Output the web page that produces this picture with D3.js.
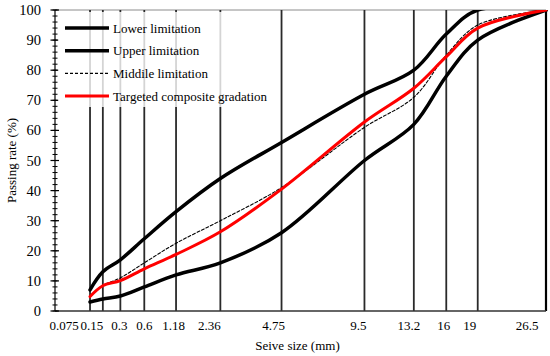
<!DOCTYPE html>
<html lang="en">

<head>
  <meta charset="UTF-8">
  <title>Gradation curve</title>
  <script src="https://cdn.jsdelivr.net/npm/d3@7/dist/d3.min.js"></script>
  <style>
    body {
      margin: 0;
      background: #fff;
    }

    svg {
      display: block;
    }

    svg text {
      font-family: "Liberation Serif", "Times New Roman", "DejaVu Serif", serif;
      fill: #000;
    }
  </style>
</head>

<body>
  <svg id="chart" width="550" height="356"></svg>

  <script>
    // sieve sizes (mm) and passing rates (%)
    const sieves = [0.075, 0.15, 0.3, 0.6, 1.18, 2.36, 4.75, 9.5, 13.2, 16, 19, 26.5];
    const tickLabels = ["0.075", "0.15", "0.3", "0.6", "1.18", "2.36", "4.75", "9.5", "13.2", "16", "19", "26.5"];
    const lowerLimit = [3, 4, 5, 8, 12, 16, 26, 50, 62, 78, 90, 100];
    const upperLimit = [7, 13, 17, 24, 33, 44, 56, 72, 80, 92, 100, 100];
    const middleLimit = [5, 8.5, 11, 16, 22.5, 30, 41, 61, 71, 85, 95, 100];
    const targeted = [4.8, 8.4, 10.1, 14, 18.8, 26.3, 40.5, 62.8, 74, 84.5, 94, 100];
    const yTicks = [0, 10, 20, 30, 40, 50, 60, 70, 80, 90, 100];

    // the labels in the original sit a little left of their lines
    const labelShift = [-26, -11, -1, 0, -2.5, -11, -8, -6, -5, -2.5, -8, -19];

    const plotLeft = 55, plotRight = 546, plotTop = 10, plotBottom = 311;
    const serif = "Liberation Serif, Times New Roman, DejaVu Serif, serif";

    const svg = d3.select("#chart").attr("font-family", serif);

    const x = d3.scalePow().exponent(0.45).domain([0, 26.5]).range([plotLeft, plotRight]);
    const y = d3.scaleLinear().domain([0, 100]).range([plotBottom, plotTop]);

    svg.append("clipPath").attr("id", "plotClip")
      .append("rect")
      .attr("x", plotLeft).attr("y", plotTop)
      .attr("width", plotRight - plotLeft + 2).attr("height", plotBottom - plotTop);

    // top border
    svg.append("line")
      .attr("x1", plotLeft).attr("x2", plotRight)
      .attr("y1", plotTop).attr("y2", plotTop)
      .attr("stroke", "#8c8c8c").attr("stroke-width", 1);

    // vertical sieve lines
    svg.append("g")
      .selectAll("line")
      .data(sieves)
      .join("line")
      .attr("x1", d => x(d)).attr("x2", d => x(d))
      .attr("y1", plotTop).attr("y2", plotBottom)
      .attr("stroke", (d, i) => i === sieves.length - 1 ? "#000" : "#2a2a2a")
      .attr("stroke-width", (d, i) => i === sieves.length - 1 ? 2.2 : 1.8);

    // bottom axis line
    svg.append("line")
      .attr("x1", plotLeft).attr("x2", plotRight)
      .attr("y1", plotBottom).attr("y2", plotBottom)
      .attr("stroke", "#333").attr("stroke-width", 1.5);

    // y axis with minor ticks
    const yAxis = svg.append("g").attr("transform", `translate(${plotLeft},0)`);
    yAxis.append("line")
      .attr("x1", 0).attr("x2", 0)
      .attr("y1", plotTop).attr("y2", plotBottom)
      .attr("stroke", "#000").attr("stroke-width", 1.2);
    yAxis.selectAll(".minor")
      .data(d3.range(0, 101, 2))
      .join("line")
      .attr("class", "minor")
      .attr("x1", -2.5).attr("x2", 2.5)
      .attr("y1", d => y(d)).attr("y2", d => y(d))
      .attr("stroke", "#000").attr("stroke-width", 1);
    yAxis.selectAll(".major")
      .data(yTicks)
      .join("line")
      .attr("class", "major")
      .attr("x1", -4.5).attr("x2", 4)
      .attr("y1", d => y(d)).attr("y2", d => y(d))
      .attr("stroke", "#000").attr("stroke-width", 1.2);
    yAxis.selectAll("text")
      .data(yTicks)
      .join("text")
      .attr("x", -14)
      .attr("y", d => y(d))
      .attr("dy", "0.35em")
      .attr("text-anchor", "end")
      .attr("font-size", 14.5)
      .text(d => d);

    // x tick labels
    svg.append("g")
      .selectAll("text")
      .data(sieves)
      .join("text")
      .attr("x", (d, i) => x(d) + labelShift[i])
      .attr("y", plotBottom + 19)
      .attr("text-anchor", "middle")
      .attr("font-size", 13)
      .text((d, i) => tickLabels[i]);

    // axis titles
    svg.append("text")
      .attr("x", (plotLeft + plotRight) / 2 - 3)
      .attr("y", 350)
      .attr("text-anchor", "middle")
      .attr("font-size", 13)
      .text("Seive size (mm)");

    svg.append("text")
      .attr("transform", `translate(16,${(plotTop + plotBottom) / 2}) rotate(-90)`)
      .attr("text-anchor", "middle")
      .attr("font-size", 13)
      .text("Passing rate (%)");

    // curves
    const series = [
      { name: "Lower limitation", values: lowerLimit, color: "#000", width: 3.5, dash: null },
      { name: "Upper limitation", values: upperLimit, color: "#000", width: 3.5, dash: null },
      { name: "Middile limitation", values: middleLimit, color: "#000", width: 1.1, dash: "3,2" },
      { name: "Targeted composite gradation", values: targeted, color: "#ff0000", width: 3, dash: null }
    ];

    const line = d3.line()
      .x(d => x(d[0]))
      .y(d => y(d[1]))
      .curve(d3.curveCatmullRom.alpha(0.5));

    const plot = svg.append("g").attr("clip-path", "url(#plotClip)");
    plot.selectAll("path")
      .data(series)
      .join("path")
      .attr("d", s => line(sieves.map((v, i) => [v, s.values[i]])))
      .attr("fill", "none")
      .attr("stroke", s => s.color)
      .attr("stroke-width", s => s.width)
      .attr("stroke-dasharray", s => s.dash)
      .attr("stroke-linecap", "round");

    // legend
    const legend = svg.append("g");
    legend.append("rect")
      .attr("x", 58).attr("y", 12)
      .attr("width", 218).attr("height", 95)
      .attr("fill", "#fff").attr("fill-opacity", 0.8);

    const item = legend.selectAll(".item")
      .data(series)
      .join("g")
      .attr("class", "item")
      .attr("transform", (d, i) => `translate(65,${28 + i * 22.7})`);
    item.append("line")
      .attr("x1", 0).attr("x2", 44)
      .attr("stroke", s => s.color)
      .attr("stroke-width", s => s.width)
      .attr("stroke-dasharray", s => s.dash);
    item.append("text")
      .attr("x", 48)
      .attr("dy", "0.35em")
      .attr("font-size", 13)
      .text(s => s.name);
  </script>
</body>

</html>
